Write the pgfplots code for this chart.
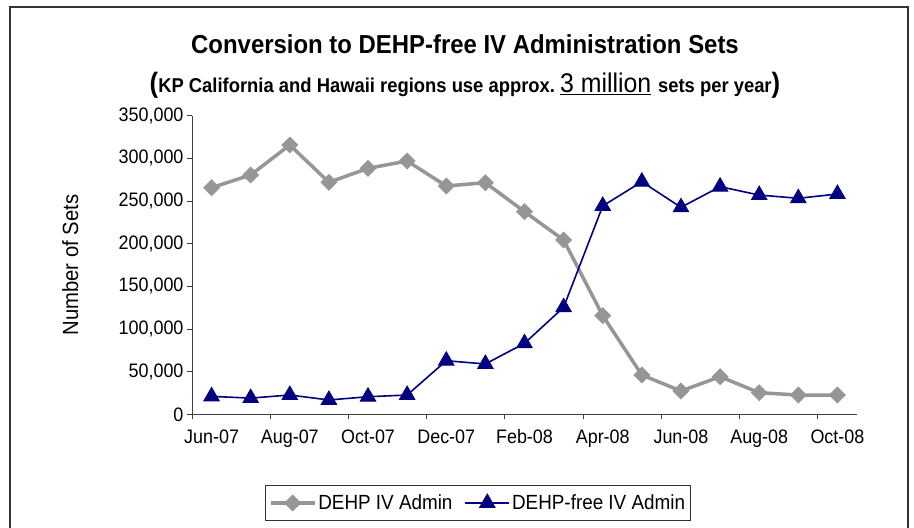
\documentclass[border=0pt]{standalone}
\usepackage{fontspec}
\setmainfont[FakeStretch=0.92]{Liberation Sans}
\usepackage{pgfplots}
\pgfplotsset{compat=1.18}
\definecolor{dehpgray}{RGB}{150,150,150}
\definecolor{navyblue}{RGB}{0,0,128}
\begin{document}
\begin{tikzpicture}[x=1pt,y=1pt]
\begin{axis}[
  at={(192pt,113.7pt)}, anchor=south west, scale only axis,
  width=665pt, height=298.6pt,
  xmin=-0.5, xmax=16.5, ymin=0, ymax=350000,
  axis x line=bottom, axis y line=left,
  axis line style={-, black!75, line width=0.9pt},
  xtick={-0.5,1.5,...,15.5},
  xticklabels={Jun-07,Aug-07,Oct-07,Dec-07,Feb-08,Apr-08,Jun-08,Aug-08,Oct-08},
  xticklabel style={xshift=19.56pt, yshift=-7pt},
  ytick={0,50000,...,350000},
  scaled y ticks=false,
  yticklabel style={/pgf/number format/.cd, fixed, 1000 sep={,}},
  /pgf/number format/assume math mode=true,
  tick label style={font=\fontsize{19.5}{22}\selectfont},
  tick align=outside, major tick length=5pt,
  tick style={black!75, line width=0.9pt},
  ylabel={Number of Sets},
  ylabel style={font=\fontsize{22}{24}\selectfont, at={(axis description cs:-0.183,0.5)}, anchor=center},
  legend columns=2,
  legend style={at={(axis description cs:0.43,-0.297)}, anchor=center, draw=black!80, line width=0.8pt,
    font=\fontsize{20.5}{23}\selectfont, inner xsep=3pt, inner ysep=7pt,
    /tikz/every even column/.append style={column sep=10pt}},
  legend image code/.code={\draw[mark repeat=2,mark phase=2] plot coordinates {(0pt,0pt)(22pt,0pt)(44pt,0pt)};},
]
\addplot[color=dehpgray, line width=3.5pt, mark=square*, mark size=5.5pt, mark options={solid, rotate=45, line width=1pt}]
coordinates {(0,265600)(1,280500)(2,315700)(3,271900)(4,288300)(5,296900)(6,267600)(7,271500)(8,237500)(9,204300)(10,115600)(11,46100)(12,27300)(13,44100)(14,25300)(15,22600)(16,22600)};
\addlegendentry{DEHP IV Admin}
\addplot[color=navyblue, line width=1.6pt, mark=triangle*, mark size=9pt, mark options={solid, line width=0.8pt}]
coordinates {(0,21000)(1,19000)(2,22600)(3,16800)(4,20600)(5,22600)(6,62800)(7,59000)(8,83200)(9,125400)(10,244200)(11,272600)(12,242600)(13,266800)(14,257000)(15,253200)(16,258200)};
\addlegendentry{DEHP-free IV Admin}
\end{axis}
\draw[line width=1.5pt, black!80] (10pt,-10pt) rectangle (908pt,521pt);
\node[font=\bfseries\fontsize{26}{28}\selectfont] at (465pt,484pt) {Conversion to DEHP-free IV Administration Sets};
\node at (465pt,443pt) {\fontsize{28}{30}\selectfont\bfseries(\fontsize{20}{22}\selectfont KP California and Hawaii regions use approx.\ \mdseries\fontsize{27}{29}\selectfont\underline{3 million} \bfseries\fontsize{20}{22}\selectfont sets per year\fontsize{28}{30}\selectfont)};
\pgfresetboundingbox
\path[use as bounding box] (0pt,0pt) rectangle (914pt,528pt);
\end{tikzpicture}
\end{document}
